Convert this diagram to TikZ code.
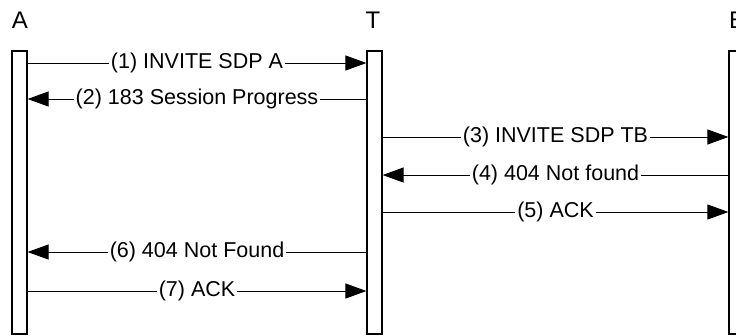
\documentclass[tikz,border=0pt]{standalone}
\usepackage{fontspec}
\setmainfont{Liberation Sans}
\usetikzlibrary{arrows.meta}

\begin{document}
\begin{tikzpicture}[x=1pt, y=-1pt, every node/.style={font=\fontsize{21.5}{24}\selectfont},
	head/.style={font=\fontsize{24}{28}\selectfont},
	life/.style={draw=black, line width=1.2pt, fill=white, minimum width=15pt, minimum height=283pt, inner sep=0pt},
	msg/.style={draw=black, line width=1pt, -{Triangle[length=21pt, width=15pt]}},
	lbl/.style={fill=white, inner xsep=2pt, inner ysep=1pt}]
			\useasboundingbox (0,0) rectangle (736,335);
			\node[head] (tA) at (20,20.5){A};
			\node[head] (tT) at (373,20.5){T};
			\node[head] (tB) at (737,20.5){B};
			\node[life] (A) at (19.5,192.5){};
			\node[life] (T) at (374.5,192.5){};
			\node[life] (B) at (736.5,192.5){};
			
			\path (A.east |- 0,63) edge[msg] node[lbl]{(1) INVITE SDP A} (T.west |- 0,63);
			\path (T.west |- 0,99) edge[msg] node[lbl]{(2) 183 Session Progress} (A.east |- 0,99);
			\path (T.east |- 0,137) edge[msg] node[lbl]{(3) INVITE SDP TB} (B.west |- 0,137);
			\path (B.west |- 0,175) edge[msg] node[lbl]{(4) 404 Not found} (T.east |- 0,175);
			\path (T.east |- 0,212) edge[msg] node[lbl]{(5) ACK} (B.west |- 0,212);
			\path (T.west |- 0,252) edge[msg] node[lbl]{(6) 404 Not Found} (A.east |- 0,252);
			\path (A.east |- 0,291) edge[msg] node[lbl]{(7) ACK} (T.west |- 0,291);
			\end{tikzpicture}
\end{document}
